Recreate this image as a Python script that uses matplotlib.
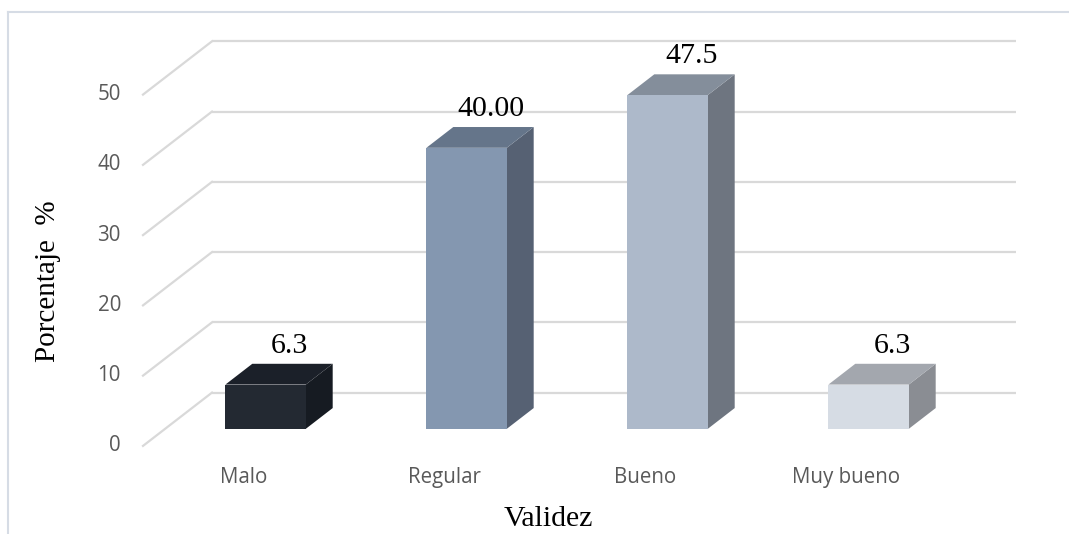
import matplotlib
matplotlib.use("Agg")
import matplotlib.pyplot as plt
from matplotlib.patches import Polygon
from matplotlib.lines import Line2D

# ---- data ----
categories = ["Malo", "Regular", "Bueno", "Muy bueno"]
values = [6.3, 40.0, 47.5, 6.3]
value_labels = ["6.3", "40.00", "47.5", "6.3"]
yticks = [0, 10, 20, 30, 40, 50]

front_colors = ["#232932", "#8497B0", "#ADB9CA", "#D6DCE4"]
top_colors = ["#1B2029", "#65758A", "#848E9B", "#A3A7AE"]
side_colors = ["#161B22", "#566173", "#6E7580", "#8A8D93"]

# ---- layout / projection ----
W, H = 1069, 534
fig = plt.figure(figsize=(W / 100, H / 100), dpi=100)
ax = fig.add_axes([0, 0, 1, 1])
px_per_cat = 201.0
px_per_unit = 7.026
x0_px, y0_px = 212.0, 392.6   # back-wall origin in pixels
ax.set_xlim(-x0_px / px_per_cat, (W - x0_px) / px_per_cat)
ax.set_ylim(-(H - y0_px) / px_per_unit, y0_px / px_per_unit)
ax.axis("off")

# depth offset vector (front relative to back), in data units
off_x = -69.0 / px_per_cat
off_y = -53.3 / px_per_unit

def shift(d):
    """offset for depth d measured from front (0 = front, 1 = back)"""
    return (1 - d) * off_x, (1 - d) * off_y

grid_c = "#D9D9D9"
for v in yticks:
    ax.plot([0, len(categories)], [v, v], color=grid_c, lw=1.6, zorder=1,
            solid_capstyle="butt")
    ax.plot([off_x, 0], [v + off_y, v], color=grid_c, lw=1.6, zorder=1)
    ax.text(off_x - 0.11, v + off_y, str(v), ha="right", va="center",
            fontsize=14.8, family="Open Sans", color="#595959")

bar_w = 0.4
d_front, d_back = 0.32, 0.71
fx, fy = shift(d_front)
bx, by = shift(d_back)
for i, (val, lab) in enumerate(zip(values, value_labels)):
    xl = i + 0.5 - bar_w / 2
    xr = i + 0.5 + bar_w / 2
    front = [(xl + fx, fy), (xr + fx, fy), (xr + fx, val + fy), (xl + fx, val + fy)]
    top = [(xl + fx, val + fy), (xr + fx, val + fy), (xr + bx, val + by), (xl + bx, val + by)]
    side = [(xr + fx, fy), (xr + bx, by), (xr + bx, val + by), (xr + fx, val + fy)]
    ax.add_patch(Polygon(side, closed=True, fc=side_colors[i], ec="none", zorder=3))
    ax.add_patch(Polygon(top, closed=True, fc=top_colors[i], ec="none", zorder=3))
    ax.add_patch(Polygon(front, closed=True, fc=front_colors[i], ec="none", zorder=4))
    ax.text(i + 0.5 + bx - 0.015, val + by + 1.55, lab, ha="center", va="baseline",
            fontsize=21.5, family="Liberation Serif", color="#000000", zorder=5)
    ax.text(i + 0.5 + off_x, off_y - 4.43, categories[i], ha="center", va="center",
            fontsize=14.8, family="Open Sans", color="#595959")

# axis titles
ax.text((47.5 - x0_px) / px_per_cat, (y0_px - 281) / px_per_unit, "Porcentaje  %",
        rotation=90, ha="center", va="center", fontsize=21,
        family="Liberation Serif", color="#000000")
ax.text((548 - x0_px) / px_per_cat, (y0_px - 519) / px_per_unit, "Validez",
        ha="center", va="center", fontsize=21.5, family="Liberation Serif",
        color="#000000")

# chart frame (cropped at right/bottom)
fc = "#D6DCE5"
fig.add_artist(Line2D([8 / W, 1.0], [1 - 12 / H, 1 - 12 / H], color=fc, lw=1.5,
                      transform=fig.transFigure))
fig.add_artist(Line2D([8 / W, 8 / W], [0.0, 1 - 12 / H], color=fc, lw=1.5,
                      transform=fig.transFigure))

fig.savefig("out.png", dpi=100, facecolor="white")
